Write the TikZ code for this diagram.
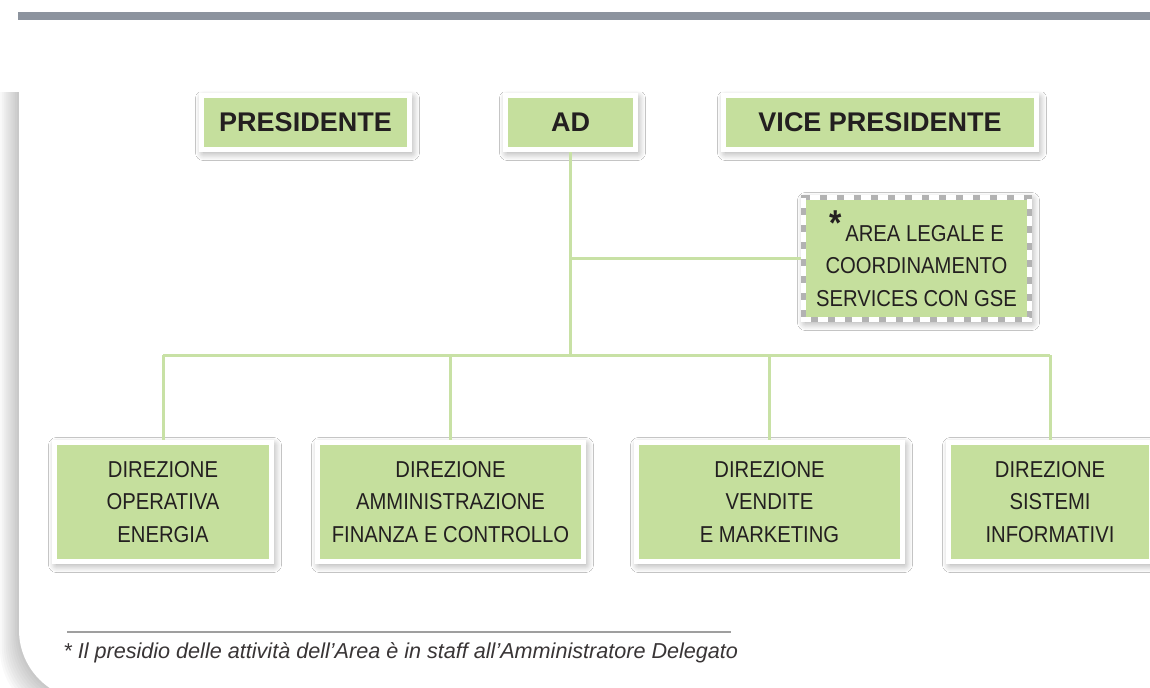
\documentclass[tikz,border=0pt]{standalone}
\usepackage{fontspec}
\setmainfont{Liberation Sans}
\newfontfamily\boxfont[FakeStretch=0.88]{Liberation Sans}
\usetikzlibrary{shadows.blur}

\definecolor{boxgreen}{RGB}{197,223,157}
\definecolor{linegreen}{RGB}{200,225,165}
\definecolor{bargray}{RGB}{140,147,158}
\definecolor{inkgray}{RGB}{35,31,32}

\tikzset{
	unit box/.style={fill=boxgreen, draw=white, line width=2.5pt, inner sep=0pt, text=inkgray, align=center,
		blur shadow={shadow xshift=1pt, shadow yshift=-1.5pt, shadow blur radius=4pt, shadow blur steps=12, shadow opacity=40}},
	top box/.style={unit box, minimum height=27pt, font=\bfseries\fontsize{13.5}{16}\selectfont},
	dir box/.style={unit box, minimum height=59.5pt, font=\boxfont\fontsize{11.5}{16.2}\selectfont},
	staff box/.style={dir box, minimum width=113pt, minimum height=61pt, draw=gray!60},
	link/.style={draw=linegreen, line width=1.5pt},
}

\begin{document}
\begin{tikzpicture}[x=0.5pt, y=-0.5pt]
\useasboundingbox (0,0) rectangle (1150,687);
% page frame
\fill[bargray] (18,12) rectangle (1150,20);
\foreach \d in {1,...,10}
	\fill[black, opacity=0.022] (19-1.9*\d,92) [rounded corners=35pt] -- (19-1.9*\d,700+1.9*\d) [sharp corners] -- (1400,700+1.9*\d) -- (1400,92) -- cycle;
\fill[white] (19,92) [rounded corners=35pt] -- (19,700) [sharp corners] -- (1400,700) -- (1400,92) -- cycle;

% top row
\node[top box, minimum width=104pt] (pres) at (305.5,122.5) {PRESIDENTE};
\node[top box, minimum width=65pt] (ad) at (570.5,122.5) {AD};
\node[top box, minimum width=156.5pt] (vice) at (880,122.5) {VICE PRESIDENTE};

% staff
\node[staff box] (area) at (916.5,258.5) {\raisebox{3pt}{\fontsize{18}{18}\bfseries *}\,AREA LEGALE E\\COORDINAMENTO\\SERVICES CON GSE};
\draw[white, line width=2.5pt, dash pattern=on 5pt off 3.5pt]
	([shift={(1.25pt,-1.25pt)}]area.north west) rectangle ([shift={(-1.25pt,1.25pt)}]area.south east);

% direzioni
\node[dir box, minimum width=108.5pt] (d1) at (163,502) {DIREZIONE\\OPERATIVA\\ENERGIA};
\node[dir box, minimum width=133pt] (d2) at (450.5,502) {DIREZIONE\\AMMINISTRAZIONE\\FINANZA E CONTROLLO};
\node[dir box, minimum width=133pt] (d3) at (769.5,502) {DIREZIONE\\VENDITE\\E MARKETING};
\node[dir box, minimum width=101.5pt] (d4) at (1050,502) {DIREZIONE\\SISTEMI\\INFORMATIVI};

% connectors
\coordinate (bus) at (568,355);
\draw[link] (ad.south) -- (ad.south |- bus);
\draw[link] (ad.south |- area.west) -- (area.west);
\draw[link] (d1.north |- bus) -- (d4.north |- bus);
\foreach \n in {d1,d2,d3,d4}
	\draw[link] (\n.north |- bus) -- (\n.north);

% footnote
\coordinate (rl) at (67,632);
\coordinate (rr) at (731,632);
\draw[gray!75, line width=0.6pt] (rl) -- (rr);
\node[anchor=west, inner sep=0pt, text=inkgray!90, font=\itshape\fontsize{10.8}{12}\selectfont] (note) at (63,653)
	{* Il presidio delle attività dell’Area è in staff all’Amministratore Delegato};
\end{tikzpicture}
\end{document}
